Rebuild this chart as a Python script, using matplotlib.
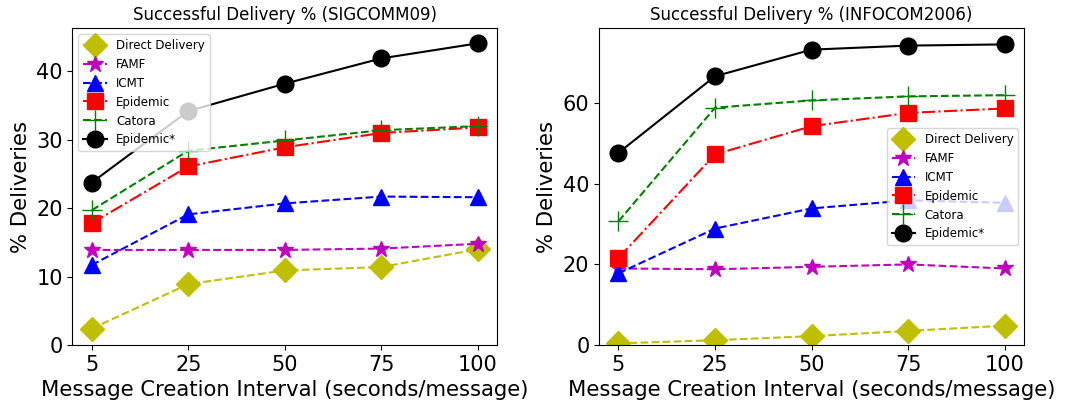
import matplotlib
matplotlib.use('Agg')
import matplotlib.pyplot as plt

# Интервалы создания сообщений (категории по оси X)
intervals = ['5', '25', '50', '75', '100']

# SIGCOMM09
sig_direct = [2.4, 8.9, 10.9, 11.4, 14.0]
sig_famf = [13.9, 13.9, 13.9, 14.1, 14.8]
sig_icmt = [11.7, 19.1, 20.7, 21.7, 21.6]
sig_epidemic = [17.8, 26.1, 28.9, 31.0, 31.8]
sig_catora = [19.7, 28.4, 29.9, 31.4, 32.0]
sig_epidemic_star = [23.75, 34.2, 38.2, 41.9, 44.1]

# INFOCOM2006
inf_direct = [0.4, 1.2, 2.2, 3.5, 4.8]
inf_famf = [19.0, 18.8, 19.4, 20.0, 19.0]
inf_icmt = [17.8, 28.9, 33.9, 35.9, 35.3]
inf_epidemic = [21.6, 47.3, 54.3, 57.6, 58.7]
inf_catora = [30.7, 58.9, 60.7, 61.7, 62.0]
inf_epidemic_star = [47.7, 66.7, 73.3, 74.3, 74.6]

names = ['Direct Delivery', 'FAMF', 'ICMT', 'Epidemic', 'Catora', 'Epidemic*']
styles = [('y', '--', 'D'), ('m', '--', '*'), ('b', '--', '^'),
          ('r', '-.', 's'), ('g', '--', '+'), ('k', '-', 'o')]
sizes = [12, 12, 12, 12, 14, 12]

fig, axes = plt.subplots(1, 2, figsize=(10.65, 4.04), dpi=100)
plt.subplots_adjust(left=0.068, right=0.9615, top=0.93, bottom=0.146, wspace=0.24)

panels = [
    (axes[0], 'Successful Delivery % (SIGCOMM09)',
     [sig_direct, sig_famf, sig_icmt, sig_epidemic, sig_catora, sig_epidemic_star],
     46.3, 'upper left'),
    (axes[1], 'Successful Delivery % (INFOCOM2006)',
     [inf_direct, inf_famf, inf_icmt, inf_epidemic, inf_catora, inf_epidemic_star],
     78.6, 'center right'),
]

x = range(len(intervals))
for ax, title, series, ytop, loc in panels:
    for name, vals, (c, ls, m), ms in zip(names, series, styles, sizes):
        ax.plot(x, vals, color=c, linestyle=ls, marker=m, markersize=ms, label=name)
    ax.set_xticks(list(x))
    ax.set_xticklabels(intervals)
    ax.set_ylim(0, ytop)
    ax.tick_params(labelsize=15)
    ax.set_title(title, fontsize=12)
    ax.set_xlabel('Message Creation Interval (seconds/message)', fontsize=15.2)
    ax.set_ylabel('% Deliveries', fontsize=15.2)
    ax.legend(loc=loc, fontsize=8.5)

plt.savefig('out.png', dpi=100)
